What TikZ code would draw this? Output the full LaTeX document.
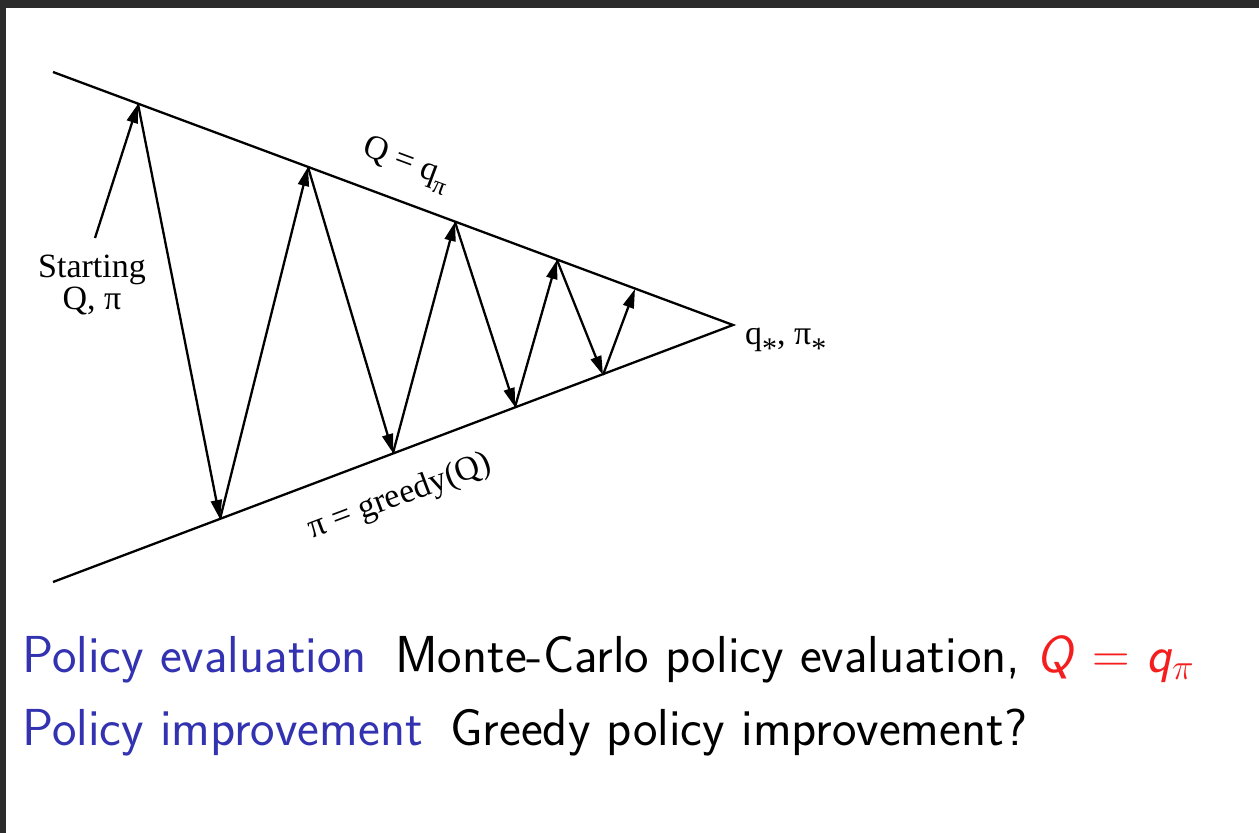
\documentclass[tikz,border=0pt]{standalone}
\usepackage{fix-cm}
\usepackage{fontspec}
\newfontfamily\tms{Liberation Serif}
\usetikzlibrary{arrows.meta}
\definecolor{frame}{HTML}{2B2B2B}
\definecolor{bblue}{rgb}{0.2,0.2,0.7}
\definecolor{bred}{HTML}{F41E1E}
\newcommand{\tsub}[1]{\raisebox{-0.3em}{\fontsize{25}{25}\selectfont #1}}
\newcommand{\tast}{\raisebox{-0.42em}{\fontsize{30}{30}\selectfont *}}
\begin{document}
\begin{tikzpicture}[x=1pt,y=-1pt,
  ln/.style={line width=2.3pt},
  arr/.style={line width=2.3pt,-{Triangle[length=19pt,width=11pt]}},
  lbl/.style={font=\tms\fontsize{34}{36}\selectfont, inner sep=0pt, align=center},
  bl/.style={font=\sffamily\fontsize{52}{56}\selectfont, inner sep=0pt, anchor=base west}]
\fill[frame] (0,0) rectangle (1259,833);
\fill[white] (6,8) rectangle (1259,833);
\useasboundingbox (0,0) rectangle (1259,833);
% frame lines
\coordinate (top0) at (53,72);
\coordinate (bot0) at (53,582);
\coordinate (apex) at (733,325);
\draw[ln] (top0) -- (apex) -- (bot0);
% vertices
\coordinate (u1) at (138,104);
\coordinate (u2) at (308,167);
\coordinate (u3) at (455,222);
\coordinate (u4) at (557,260);
\coordinate (u5) at (635,289);
\coordinate (d1) at (220,519);
\coordinate (d2) at (393,453);
\coordinate (d3) at (515,407);
\coordinate (d4) at (603,375);
\coordinate (st) at (95,238);
\draw[arr] (st) -- (u1);
\draw[arr] (u1) -- (d1);
\draw[arr] (d1) -- (u2);
\draw[arr] (u2) -- (d2);
\draw[arr] (d2) -- (u3);
\draw[arr] (u3) -- (d3);
\draw[arr] (d3) -- (u4);
\draw[arr] (u4) -- (d4);
\draw[arr] (d4) -- (u5);
% labels
\node[lbl] (start) at (92,285) {Starting\\[-4pt]Q, π};
\node[lbl, rotate=-20.4] (qpi) at (406,165) {Q = q\tsub{π}};
\node[lbl, rotate=20.7] (greedy) at (400,497) {π = greedy(Q)};
\node[lbl, anchor=base west] (star) at (745,344) {q\tast, π\tast};
% bottom text
\node[bl, text=bblue] (pe) at (22,672) {Policy evaluation};
\node[bl] (pet) at (395,672) {Monte-Carlo policy evaluation, \textcolor{bred}{\textit{Q} $=$ \textit{q}$_\pi$}};
\node[bl, text=bblue] (pi) at (22,745) {Policy improvement};
\node[bl] (pit) at (450,745) {Greedy policy improvement?};
\end{tikzpicture}
\end{document}
